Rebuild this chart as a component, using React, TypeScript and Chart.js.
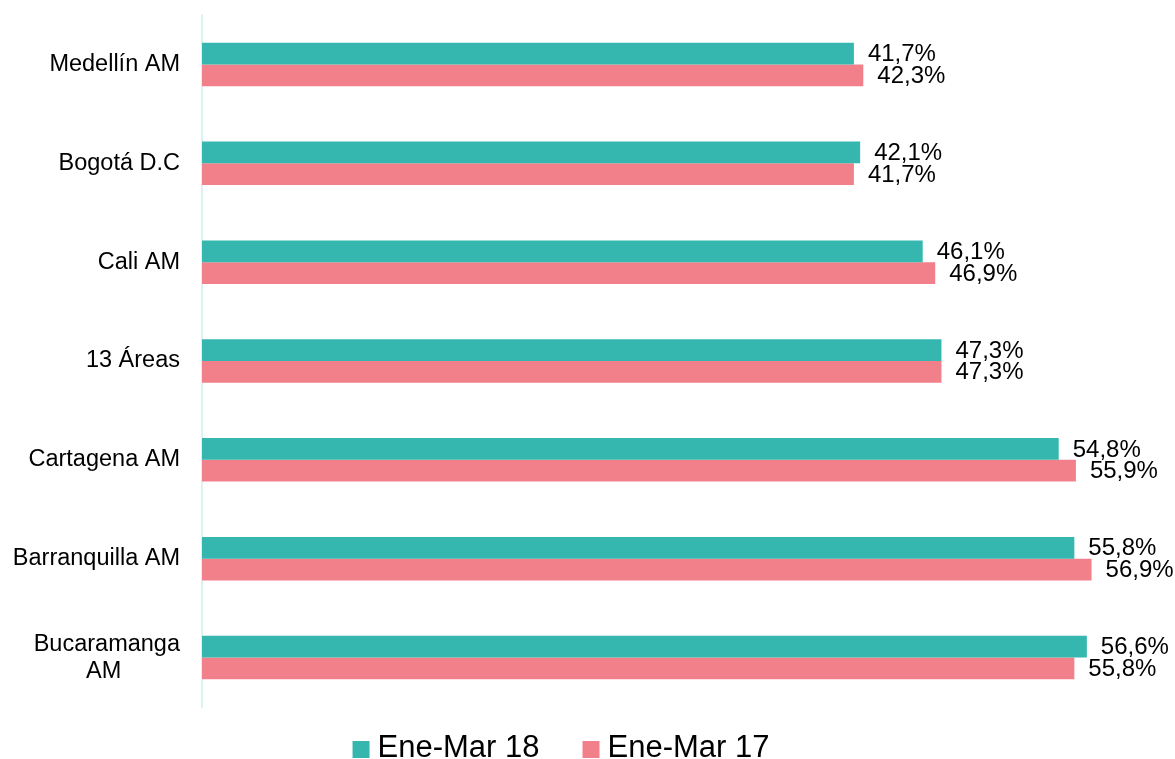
import React, { useEffect, useRef } from "react";
import { Chart, registerables } from "chart.js";

Chart.register(...registerables);

const FONT = "'Liberation Sans', Arial, Helvetica, sans-serif";

const categories: (string | string[])[] = [
  "Medellín AM",
  "Bogotá D.C",
  "Cali AM",
  "13 Áreas",
  "Cartagena AM",
  "Barranquilla AM",
  ["Bucaramanga", "AM         "],
];
const seriesNames = ["Ene-Mar 18", "Ene-Mar 17"];
const ene18 = [41.7, 42.1, 46.1, 47.3, 54.8, 55.8, 56.6];
const ene17 = [42.3, 41.7, 46.9, 47.3, 55.9, 56.9, 55.8];
const colors = ["#35B7AF", "#F2808A"];
const axisMax = 60;

const fmt = (v: number) => v.toFixed(1).replace(".", ",") + "%";

const valueLabels = {
  id: "valueLabels",
  afterDatasetsDraw(chart: any) {
    const ctx = chart.ctx;
    ctx.save();
    ctx.font = `24px ${FONT}`;
    ctx.fillStyle = "#000";
    ctx.textAlign = "left";
    ctx.textBaseline = "middle";
    chart.data.datasets.forEach((ds: any, i: number) => {
      const meta = chart.getDatasetMeta(i);
      meta.data.forEach((el: any, j: number) => {
        ctx.fillText(fmt(ds.data[j]), el.x + 14, el.y + 1);
      });
    });
    ctx.restore();
  },
};

const customLegend = {
  id: "customLegend",
  afterDraw(chart: any) {
    const ctx = chart.ctx;
    ctx.save();
    ctx.font = `31px ${FONT}`;
    ctx.textBaseline = "alphabetic";
    ctx.textAlign = "left";
    const box = 17;
    const gap = 8;
    const itemGap = 43;
    const widths = seriesNames.map((n) => box + gap + ctx.measureText(n).width);
    const total = widths.reduce((a, b) => a + b, 0) + itemGap * (widths.length - 1);
    const centerX = (chart.chartArea.left + chart.chartArea.right) / 2 - 110;
    let x = centerX - total / 2;
    const baseY = chart.height - 2;
    seriesNames.forEach((n, i) => {
      ctx.fillStyle = colors[i];
      ctx.fillRect(x, baseY - 16, box, box);
      ctx.fillStyle = "#000";
      ctx.fillText(n, x + box + gap, baseY);
      x += widths[i] + itemGap;
    });
    ctx.restore();
  },
};

export default function App() {
  const ref = useRef<HTMLCanvasElement | null>(null);
  useEffect(() => {
    if (!ref.current) return;
    const chart = new Chart(ref.current, {
      type: "bar",
      data: {
        labels: categories,
        datasets: [
          {
            label: seriesNames[0],
            data: ene18,
            backgroundColor: colors[0],
            barPercentage: 1,
            categoryPercentage: 0.44,
          },
          {
            label: seriesNames[1],
            data: ene17,
            backgroundColor: colors[1],
            barPercentage: 1,
            categoryPercentage: 0.44,
          },
        ],
      },
      options: {
        indexAxis: "y",
        animation: false,
        responsive: true,
        maintainAspectRatio: false,
        layout: { padding: { top: 15, bottom: 52, left: 0, right: 35 } },
        plugins: {
          legend: { display: false },
          tooltip: { enabled: false },
        },
        scales: {
          x: {
            display: false,
            min: 0,
            max: axisMax,
          },
          y: {
            afterFit: (scale: any) => {
              scale.width = 202;
              scale.paddingTop = 0;
              scale.paddingBottom = 0;
            },
            grid: { display: false, drawTicks: false },
            border: { display: true, color: "#DDF3F2", width: 2 },
            ticks: {
              color: "#000",
              padding: 22,
              font: { family: FONT, size: 23.5, lineHeight: 1.15 },
            },
          },
        },
      },
      plugins: [valueLabels, customLegend],
    });
    return () => chart.destroy();
  }, []);
  return (
    <div style={{ position: "absolute", left: 0, top: 0, width: 1175, height: 759, background: "#fff" }}>
      <canvas ref={ref} />
    </div>
  );
}
